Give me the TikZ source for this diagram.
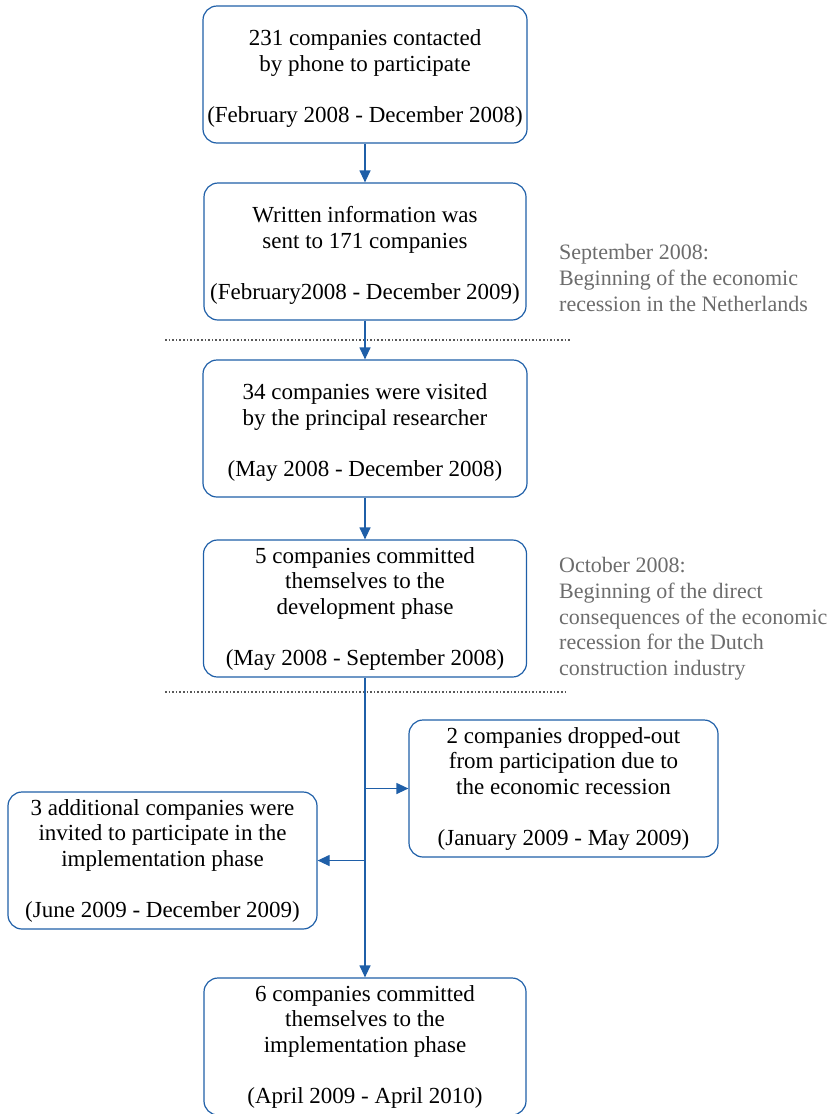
\documentclass[tikz,border=0pt]{standalone}
\usepackage{fontspec}
\setmainfont{Liberation Serif}
\usetikzlibrary{arrows.meta, positioning}
\definecolor{flowblue}{RGB}{31, 95, 168}
\definecolor{notegray}{RGB}{108, 108, 108}

\begin{document}
\begin{tikzpicture}[x=1pt, y=1pt,
  stagebox/.style={draw=flowblue, line width=1.2pt, rounded corners=14pt, align=center, minimum height=137pt, inner sep=2pt, font=\fontsize{23}{25.5}\selectfont},
  notetext/.style={text=notegray, align=left, anchor=north west, inner sep=0pt, font=\fontsize{22}{25.8}\selectfont},
  flowarrow/.style={draw=flowblue, line width=1.2pt, -{Triangle[length=12pt, width=11pt]}},
  cutline/.style={draw=black!65, line width=1.6pt, dotted}
]
  \useasboundingbox (0,0) rectangle (833,-1114);

  % stages of recruitment
  \node[stagebox, minimum width=324pt] (contact) at (365,-74.5) {\rule{0pt}{24pt}231 companies contacted\\by phone to participate\\[25.5pt](February 2008 - December 2008)};
  \node[stagebox, minimum width=322pt] (written) at (365,-251.5) {\rule{0pt}{24pt}Written information was\\sent to 171 companies\\[25.5pt](February2008 - December 2009)};
  \node[stagebox, minimum width=324pt] (visited) at (365,-428.5) {\rule{0pt}{24pt}34 companies were visited\\by the principal researcher\\[25.5pt](May 2008 - December 2008)};
  \node[stagebox, minimum width=323pt] (develop) at (365,-608.5) {5 companies committed\\themselves to the\\development phase\\[25.5pt](May 2008 - September 2008)};
  \node[stagebox, minimum width=309pt] (dropped) at (563.5,-788.5) {2 companies dropped-out\\from participation due to\\the economic recession\\[25.5pt](January 2009 - May 2009)};
  \node[stagebox, minimum width=309pt] (invited) at (162.5,-860.5) {3 additional companies were\\invited to participate in the\\implementation phase\\[25.5pt](June 2009 - December 2009)};
  \node[stagebox, minimum width=322pt] (implement) at (365,-1046.5) {6 companies committed\\themselves to the\\implementation phase\\[25.5pt](April 2009 - April 2010)};

  % recession notes
  \node[notetext] (sepnote) at (559,-244) {September 2008:\\Beginning of the economic\\recession in the Netherlands};
  \node[notetext] (octnote) at (559,-557) {October 2008:\\Beginning of the direct\\consequences of the economic\\recession for the Dutch\\construction industry};

  \coordinate (cutAw) at (165,-340);
  \coordinate (cutAe) at (570,-340);
  \coordinate (cutBw) at (165,-692);
  \coordinate (cutBe) at (567,-692);
  \draw[cutline] (cutAw) -- (cutAe);
  \draw[cutline] (cutBw) -- (cutBe);

  % connectors
  \draw[flowarrow] (contact) -- (written);
  \draw[flowarrow] (written) -- (visited);
  \draw[flowarrow] (visited) -- (develop);
  \draw[flowarrow] (develop) -- (implement);
  \coordinate (splitR) at (develop.south |- dropped.west);
  \coordinate (splitL) at (develop.south |- invited.east);
  \draw[flowarrow] (splitR) -- (dropped.west);
  \draw[flowarrow] (splitL) -- (invited.east);
\end{tikzpicture}
\end{document}
